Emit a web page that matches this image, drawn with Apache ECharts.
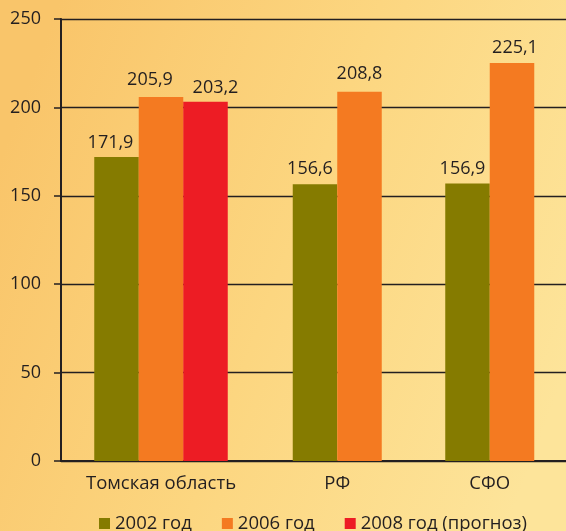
<!DOCTYPE html>
<html><head><meta charset="utf-8">
<script src="https://cdn.jsdelivr.net/npm/echarts@6/dist/echarts.min.js"></script>
<style>html,body{margin:0;padding:0;}#c{width:566px;height:531px;}</style>
</head><body><div id="c"></div>
<script>
const categoriesA = ['Томская область'];
const categoriesB = ['РФ', 'СФО'];
const seriesNames = ['2002 год', '2006 год', '2008 год (прогноз)'];
const values2002A = [171.9];
const values2006A = [205.9];
const values2008A = [203.2];
const values2002B = [156.6, 156.9];
const values2006B = [208.8, 225.1];
const colors = ['#857B00', '#F47A21', '#ED1C24'];
const FONT = 'Open Sans';

// label nudges (style only), matching the hand-placed labels of the original
const offs2002A = [[-6, 0]];
const offs2006A = [[-11, -3]];
const offs2008A = [[10, 0]];
const offs2002B = [[-5, -1], [-5, -1]];
const offs2006B = [[0, -4], [3, -1]];

const fmt = p => p.value.toFixed(1).replace('.', ',');
const axisCol = '#231F20';

function bar(name, values, offs, idx, color) {
  const data = values.map((v, i) => ({value: v, label: {offset: offs[i]}}));
  return {name, type: 'bar', data, xAxisIndex: idx, yAxisIndex: idx, barWidth: 44.5, barGap: '0%',
    itemStyle: {color},
    label: {show: true, position: 'top', distance: 5, color: '#231F20', fontSize: 18, fontFamily: FONT, formatter: fmt},
    emphasis: {disabled: true}};
}

const chart = echarts.init(document.getElementById('c'), null, {renderer: 'canvas'});
chart.setOption({
  backgroundColor: {type: 'linear', x: 0, y: 0.3, x2: 1, y2: 0.7, colorStops: [
    {offset: 0, color: '#F9C56A'}, {offset: 0.5, color: '#FCD680'}, {offset: 1, color: '#FDE49A'}]},
  animation: false,
  textStyle: {fontFamily: FONT},
  grid: [
    {left: 61, top: 19, width: 200, height: 442, containLabel: false},
    {left: 261, top: 19, width: 312, height: 442, containLabel: false}
  ],
  xAxis: [
    {type: 'category', gridIndex: 0, data: categoriesA,
     axisLine: {lineStyle: {color: axisCol, width: 2}}, axisTick: {length: 5, lineStyle: {color: axisCol, width: 1.5}},
     axisLabel: {color: '#231F20', fontSize: 18.5, fontFamily: FONT, margin: 13}},
    {type: 'category', gridIndex: 1, data: categoriesB,
     axisLine: {lineStyle: {color: axisCol, width: 2}}, axisTick: {length: 5, lineStyle: {color: axisCol, width: 1.5}},
     axisLabel: {color: '#231F20', fontSize: 18.5, fontFamily: FONT, margin: 13}}
  ],
  yAxis: [
    {type: 'value', gridIndex: 0, min: 0, max: 250, interval: 50,
     axisLine: {show: true, lineStyle: {color: axisCol, width: 2}},
     axisTick: {show: true, length: 7, lineStyle: {color: axisCol, width: 1.5}},
     axisLabel: {color: '#231F20', fontSize: 18, fontFamily: FONT, margin: 20},
     splitLine: {lineStyle: {color: '#231F20', width: 1.3}}},
    {type: 'value', gridIndex: 1, min: 0, max: 250, interval: 50,
     axisLine: {show: false}, axisTick: {show: false}, axisLabel: {show: false},
     splitLine: {lineStyle: {color: '#231F20', width: 1.3}}}
  ],
  legend: {
    data: seriesNames, left: 94, top: 509, itemWidth: 11, itemHeight: 11, itemGap: 30,
    icon: 'rect', textStyle: {color: '#231F20', fontSize: 18.5, fontFamily: FONT}
  },
  series: [
    bar(seriesNames[0], values2002A, offs2002A, 0, colors[0]),
    bar(seriesNames[1], values2006A, offs2006A, 0, colors[1]),
    bar(seriesNames[2], values2008A, offs2008A, 0, colors[2]),
    bar(seriesNames[0], values2002B, offs2002B, 1, colors[0]),
    bar(seriesNames[1], values2006B, offs2006B, 1, colors[1])
  ]
});
</script></body></html>
